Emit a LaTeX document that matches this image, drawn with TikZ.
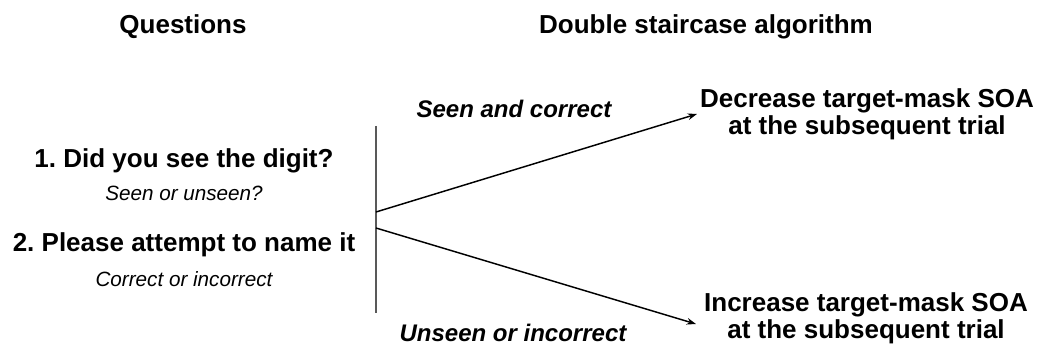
\documentclass[tikz,border=0pt]{standalone}
\usepackage{fontspec}
\setmainfont{Liberation Sans}
\usetikzlibrary{arrows.meta}
\frenchspacing
\begin{document}
\begin{tikzpicture}[x=0.75pt,y=-0.75pt,
    headtext/.style={font=\bfseries\fontsize{19.5}{20}\selectfont,anchor=base,inner sep=0pt},
    asktext/.style={font=\bfseries\fontsize{19.5}{20}\selectfont,anchor=base,inner sep=0pt},
    answertext/.style={font=\itshape\fontsize{15.5}{16}\selectfont,anchor=base,inner sep=0pt},
    branchtext/.style={font=\bfseries\itshape\fontsize{18}{19}\selectfont,anchor=base,inner sep=0pt},
    outcometext/.style={font=\bfseries\fontsize{19.5}{20.25}\selectfont,align=center,inner sep=0pt},
    branch/.style={line width=1.1pt,-{Stealth[length=7pt,width=5pt]}}]
  \useasboundingbox (0,0) rectangle (1042,352);
  \node[headtext] (questions) at (183,34) {Questions};
  \node[headtext] (staircase) at (706,34) {Double staircase algorithm};
  \node[asktext] (askseen) at (184,168) {1. Did you see the digit?};
  \node[answertext] (ansseen) at (184,201) {Seen or unseen?};
  \node[asktext] (askname) at (184,252) {2. Please attempt to name it};
  \node[answertext] (ansname) at (184,287) {Correct or incorrect};
  \coordinate (bartop) at (376,126);
  \coordinate (barbot) at (376,313);
  \draw[line width=0.8pt,black!65] (bartop) -- (barbot);
  \coordinate (upstart) at (376,212);
  \coordinate (downstart) at (376,228);
  \coordinate (uptip) at (697,114);
  \coordinate (downtip) at (696,324);
  \draw[branch] (upstart) -- (uptip);
  \draw[branch] (downstart) -- (downtip);
  \node[branchtext] (seencorrect) at (514,118) {Seen and correct};
  \node[branchtext] (unseenwrong) at (513,342) {Unseen or incorrect};
  \node[outcometext] (decrease) at (867,114) {Decrease target-mask SOA\\at the subsequent trial};
  \node[outcometext] (increase) at (866,318) {Increase target-mask SOA\\at the subsequent trial};
\end{tikzpicture}
\end{document}
